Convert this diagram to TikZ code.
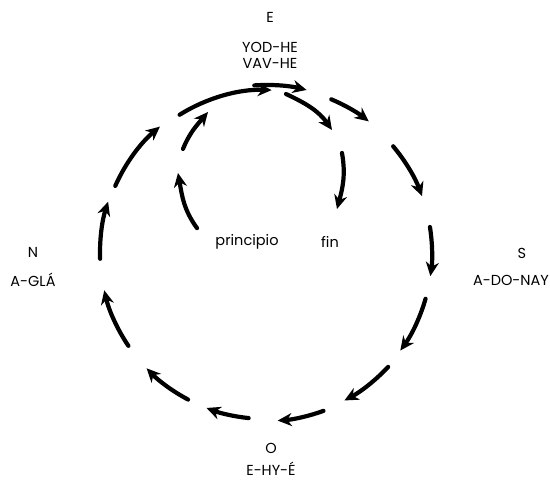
\documentclass[tikz,border=0pt]{standalone}
\usepackage{fontspec}
\setmainfont{Poppins}
\usetikzlibrary{arrows.meta}

\begin{document}
\begin{tikzpicture}[x=1pt, y=1pt, line width=4.2pt, line cap=round,
  flecha/.style={-{Stealth[length=14pt, width=13pt, inset=4.5pt]}},
  rotulo/.style={font=\fontsize{14.5}{16}\selectfont}]
\useasboundingbox (-266,-232) rectangle (284,253);
% el circulo de fuera, en el sentido del reloj
\foreach \a/\b/\r in {156/130/165, 122/88/163, 94/76/168, 67/52/167, 40/20/166, 9/-8/166,
  -16/-36/166, -43/-62/167, -70/-86/168, -96/-111/166, -118/-136/166, -146/-167/166, -178/-198/166}
  \draw[flecha] (\a:\r) arc (\a:\b:\r);
%
\node[rotulo] (este) at (4,236) {E};
\node[rotulo, align=center] (nombreE) at (4,198) {YOD-HE\\VAV-HE};
\node[rotulo] (norte) at (-233,1) {N};
\node[rotulo] (nombreN) at (-233,-27) {A-GLÁ};
\node[rotulo] (sur) at (256,0) {S};
\node[rotulo] (nombreS) at (245,-27) {A-DO-NAY};
\node[rotulo] (oeste) at (5,-195) {O};
\node[rotulo] (nombreO) at (5,-216) {E-HY-É};
\node[rotulo] (principio) at (-19,11) {principio};
\node[rotulo] (fin) at (64,11) {fin};
%
% la espiral de dentro
\draw[flecha] ([shift={(-13,1)}]principio.north west) to[out=126, in=-80] (-88,80);
\draw[flecha] (-83,104) to[out=68, in=-130] (-58,141);
\draw[flecha] (20,159) to[out=-25, in=125] (66,123);
\draw[flecha] (76,100) to[out=-80, in=75] ([shift={(7,22)}]fin.north);
\end{tikzpicture}
\end{document}
